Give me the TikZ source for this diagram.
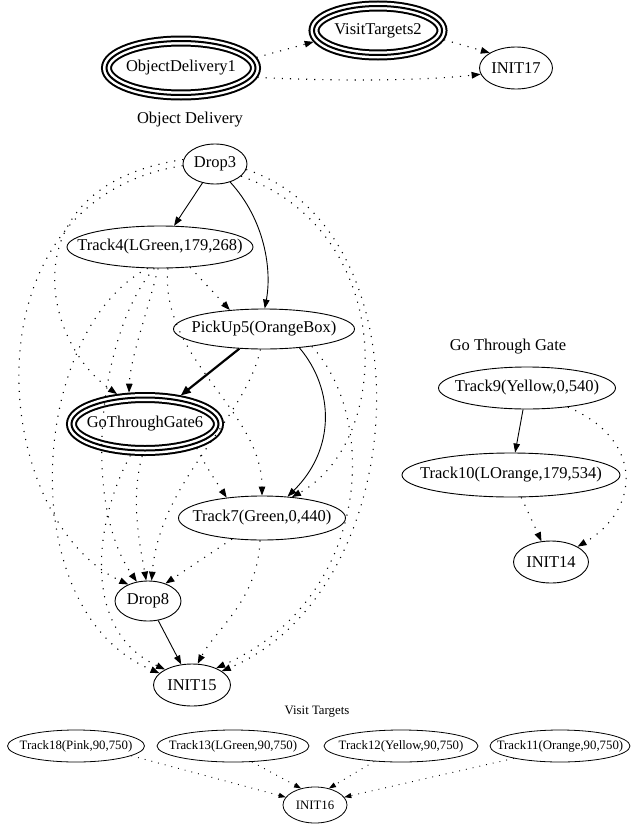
\documentclass[tikz,border=0pt]{standalone}
\usepackage{fontspec}
\setmainfont{Liberation Serif}
\usetikzlibrary{shapes.geometric, arrows.meta}

\newcommand{\nm}[1]{\makebox[0pt]{#1}}

\tikzset{
  st/.style={draw, ellipse, line width=.9pt, inner sep=0pt,
    font=\fontsize{16.5}{19}\selectfont},
  sm/.style={st, line width=.8pt, font=\fontsize{12.8}{15}\selectfont},
  trip/.style={st, line width=2pt, outer sep=5.5pt,
    preaction={draw, line width=11pt}, preaction={draw=white, line width=7pt}},
  ttl/.style={font=\fontsize{16.5}{19}\selectfont},
  ttls/.style={font=\fontsize{12.8}{15}\selectfont},
  dt/.style={-{Triangle[length=9pt,width=6.5pt]}, line width=1.1pt, dash pattern=on 1.1pt off 7pt},
  sl/.style={-{Triangle[length=9pt,width=6.5pt]}, line width=.9pt},
  bd/.style={-{Triangle[length=10pt,width=8pt]}, line width=2.2pt},
  dts/.style={-{Triangle[length=7pt,width=5pt]}, line width=.9pt, dash pattern=on .9pt off 6pt},
}

\begin{document}
\begin{tikzpicture}[x=1pt,y=-1pt]
\useasboundingbox (0,0) rectangle (632,827);

% top level
\node[trip, minimum width=149pt, minimum height=54pt] (od1) at (181,68) {\nm{ObjectDelivery1}};
\node[trip, minimum width=128pt, minimum height=49pt] (vt2) at (378,30.5) {\nm{VisitTargets2}};
\node[st, minimum width=73pt, minimum height=42pt] (i17) at (516,68) {\nm{INIT17}};

\draw[dt] (od1.8) -- (vt2.190);
\draw[dt] (od1.-7) .. controls (350,82) and (430,80) .. (i17.190);
\draw[dt] (vt2.-8) -- (i17.150);

% object delivery
\node[ttl] (lod) at (190,120) {Object Delivery};
\node[st, minimum width=64pt, minimum height=40pt] (d3) at (215,164) {\nm{Drop3}};
\node[st, minimum width=186pt, minimum height=42pt] (t4) at (160,247) {\nm{Track4(LGreen,179,268)}};
\node[st, minimum width=181pt, minimum height=40pt] (p5) at (264,329) {\nm{PickUp5(OrangeBox)}};
\node[trip, minimum width=147pt, minimum height=53pt] (g6) at (145,424) {\nm{GoThroughGate6}};
\node[st, minimum width=167pt, minimum height=44pt] (t7) at (262,518) {\nm{Track7(Green,0,440)}};
\node[st, minimum width=66pt, minimum height=40pt] (d8) at (148,601) {\nm{Drop8}};
\node[st, minimum width=77pt, minimum height=42pt] (i15) at (192,685) {\nm{INIT15}};

\draw[sl] (d3) -- (t4);
\draw[sl] (d3.-50) .. controls (265,220) and (272,270) .. (p5.88);
\draw[dt] (d3.172) .. controls (10,185) and (40,340) .. (g6.133);
\draw[dt] (d3.183) .. controls (-40,200) and (-10,520) .. (d8.140);
\draw[dt] (d3.-25) .. controls (395,230) and (395,440) .. (t7.35);
\draw[dt] (d3.-10) .. controls (430,230) and (415,590) .. (i15.25);

\draw[dt] (t4.-34) -- (p5.151);
\draw[dt] (t4.-95) .. controls (145,320) and (130,360) .. (g6.117);
\draw[dt] (t4.-70) .. controls (160,360) and (262,410) .. (t7.90);
\draw[dt] (t4.-105) .. controls (100,330) and (80,500) .. (d8.120);
\draw[dt] (t4.-120) .. controls (30,330) and (10,610) .. (i15.160);

\draw[bd] (p5) -- (g6);
\draw[sl] (p5.-28) .. controls (335,390) and (335,450) .. (t7.40);
\draw[dt] (p5.-100) .. controls (245,420) and (160,480) .. (d8.80);
\draw[dt] (p5.-20) .. controls (380,420) and (370,600) .. (i15.35);

\draw[dt] (g6.-25) .. controls (205,465) and (215,480) .. (t7.150);
\draw[dt] (g6.-95) .. controls (130,500) and (140,545) .. (d8.95);
\draw[dt] (g6.-115) .. controls (95,520) and (80,630) .. (i15.150);

\draw[dt] (t7.-145) -- (d8.45);
\draw[dt] (t7.-95) .. controls (258,600) and (215,630) .. (i15.75);
\draw[sl] (d8) -- (i15);

% go through gate
\node[ttl] (lgg) at (508,347) {Go Through Gate};
\node[st, minimum width=177pt, minimum height=42pt] (t9) at (527,388) {\nm{Track9(Yellow,0,540)}};
\node[st, minimum width=218pt, minimum height=44pt] (t10) at (511,475) {\nm{Track10(LOrange,179,534)}};
\node[st, minimum width=75pt, minimum height=42pt] (i14) at (551,562) {\nm{INIT14}};

\draw[sl] (t9) -- (t10);
\draw[dt] (t9.-25) .. controls (645,440) and (640,510) .. (i14.30);
\draw[dt] (t10) -- (i14);

% visit targets
\node[ttls] (lvt) at (317,712) {Visit Targets};
\node[sm, minimum width=137pt, minimum height=32pt] (t18) at (76,746) {\nm{Track18(Pink,90,750)}};
\node[sm, minimum width=152pt, minimum height=32pt] (t13) at (233,746) {\nm{Track13(LGreen,90,750)}};
\node[sm, minimum width=154pt, minimum height=32pt] (t12) at (401,746) {\nm{Track12(Yellow,90,750)}};
\node[sm, minimum width=140pt, minimum height=32pt] (t11) at (560,746) {\nm{Track11(Orange,90,750)}};
\node[sm, minimum width=64pt, minimum height=36pt] (i16) at (315,805) {\nm{INIT16}};

\draw[dts] (t18.-10) -- (i16.165);
\draw[dts] (t13.-40) -- (i16.130);
\draw[dts] (t12.-150) -- (i16.50);
\draw[dts] (t11.-165) -- (i16.15);

\end{tikzpicture}
\end{document}
